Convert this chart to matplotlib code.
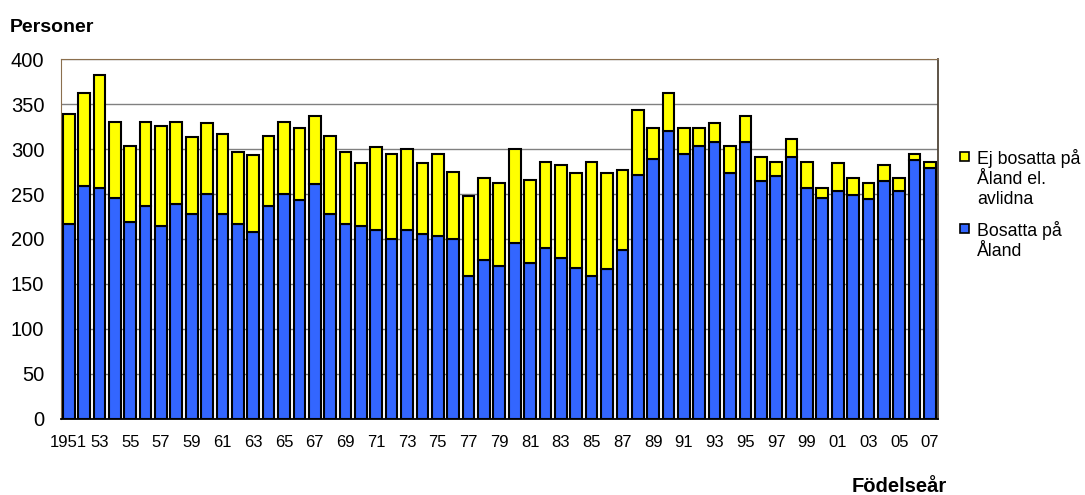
import matplotlib
matplotlib.use("Agg")
import matplotlib.pyplot as plt
from matplotlib.patches import Rectangle
import numpy as np

plt.rcParams['font.family'] = ['Liberation Sans', 'DejaVu Sans']

# birth years 1951-2007
years = list(range(1951, 2008))

# living on Åland (blue)
bosatta = [217, 259, 257, 246, 219, 237, 214, 239, 228, 250,
           228, 217, 208, 237, 250, 243, 261, 228, 217, 214,
           210, 200, 210, 206, 203, 200, 159, 177, 170, 195,
           173, 190, 179, 168, 159, 166, 188, 271, 289, 320,
           295, 304, 308, 273, 308, 264, 270, 291, 257, 246,
           253, 249, 244, 264, 253, 288, 279]

# not living on Åland or deceased (yellow)
ej_bosatta = [122, 103, 125, 84, 85, 93, 112, 91, 85, 79,
              89, 80, 85, 78, 80, 81, 76, 87, 80, 70,
              92, 95, 90, 78, 92, 75, 89, 91, 92, 105,
              93, 96, 103, 105, 127, 107, 89, 73, 35, 42,
              29, 20, 21, 31, 29, 27, 16, 20, 29, 11,
              31, 19, 18, 18, 15, 7, 7]

tick_years = list(range(1951, 2008, 2))
tick_labels = ["1951"] + ["%02d" % (y % 100) for y in tick_years[1:]]

BLUE = "#3366FF"
YELLOW = "#FFFF00"

fig = plt.figure(figsize=(10.85, 4.95), dpi=100)
ax = fig.add_axes([0.0562, 0.1545, 0.808, 0.7257])

x = np.arange(len(years))
ax.bar(x, bosatta, width=0.76, color=BLUE, edgecolor="black", linewidth=1.5, zorder=3)
ax.bar(x, ej_bosatta, bottom=bosatta, width=0.76, color=YELLOW, edgecolor="black",
       linewidth=1.5, zorder=3)

ax.set_xlim(-0.5, len(years) - 0.5)
ax.set_ylim(0, 400)
ax.set_yticks(range(0, 401, 50))
ax.yaxis.grid(True, color="#808080", linewidth=1.0, zorder=0)
ax.set_axisbelow(True)

ax.set_xticks([years.index(y) for y in tick_years])
ax.set_xticklabels(tick_labels, fontsize=12)
ax.tick_params(axis='x', length=0, pad=12)
ax.tick_params(axis='y', length=0, pad=12, labelsize=14.5)

ax.spines['left'].set_color("#8B6F4E")
ax.spines['top'].set_color("#8B6F4E")
ax.spines['right'].set_color("#504538")
ax.spines['bottom'].set_color("black")
ax.spines['bottom'].set_linewidth(1.3)
ax.spines['right'].set_linewidth(1.3)

fig.text(10 / 1085, 1 - 32 / 495, "Personer", fontsize=14, fontweight="bold",
         ha="left", va="baseline")
fig.text(947 / 1085, 1 - 492 / 495, "Födelseår", fontsize=14.5, fontweight="bold",
         ha="right", va="baseline")

# legend drawn by hand
for (sq_y, col, txt) in [(152, YELLOW, "Ej bosatta på\nÅland el.\navlidna"),
                         (224, BLUE, "Bosatta på\nÅland")]:
    fig.patches.append(Rectangle((960 / 1085, 1 - (sq_y + 9) / 495), 9 / 1085, 9 / 495,
                                 transform=fig.transFigure, facecolor=col,
                                 edgecolor="black", linewidth=1.2))
    fig.text(977 / 1085, 1 - (sq_y - 3) / 495, txt, fontsize=12.8, ha="left", va="top",
             linespacing=1.22)

fig.savefig("out.png", dpi=100)
